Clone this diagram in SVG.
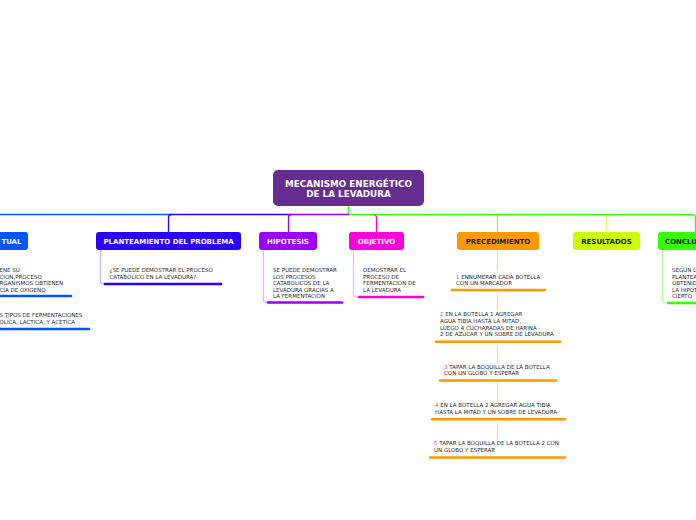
<svg xmlns="http://www.w3.org/2000/svg" width="696" height="520" viewBox="0 0 696 520">
<style>
.root{font-family:"DejaVu Sans",Verdana,sans-serif;font-weight:bold;font-size:8.8px;fill:#ffffff;text-anchor:middle}
.lbl{font-family:"DejaVu Sans",Verdana,sans-serif;font-weight:bold;font-size:7px;text-anchor:middle}
.w{fill:#ffffff}
.d{fill:#1a1a1a}
.t{font-family:"DejaVu Sans",Verdana,sans-serif;font-size:5.5px;fill:#2a2a2a}
.n{fill:#e0506a}
.c{fill:none;stroke-width:1.3}
.u{fill:none;stroke-width:2.6;stroke-linecap:round}
</style>
<rect width="696" height="520" fill="#ffffff"/>
<g id="connectors">
  <path class="c" d="M348.5 206 V214.5" stroke="#33ff00"/>
  <path class="c" d="M-5 214.5 H169" stroke="#0055ff"/>
  <path class="c" d="M169 214.5 H288" stroke="#2b00ff"/>
  <path class="c" d="M288 214.5 H349" stroke="#9900ff"/>
  <path class="c" d="M172 214.5 Q168.5 214.5 168.5 218 V232" stroke="#2b00ff"/>
  <path class="c" d="M291.5 214.5 Q288.5 214.5 288.5 218 V232" stroke="#9900ff"/>
  <path class="c" d="M373 214.5 Q376.5 214.5 376.5 218 V232" stroke="#ff00dd"/>
  <path class="c" d="M494.5 214.5 Q497.5 214.5 497.5 218 V232" stroke="#ffc266"/>
  <path class="c" d="M603.5 214.5 Q606.5 214.5 606.5 218 V232" stroke="#e2ff66"/>
  <path class="c" d="M349 214.5 H692 Q695.5 214.5 695.5 218 V232" stroke="#33ff00"/>
  <!-- child connectors -->
  <path class="c" d="M100.5 250 V281 Q100.5 284 104 284" stroke="#c4b8ff"/>
  <path class="c" d="M263.5 250 V299 Q263.5 302.5 267 302.5" stroke="#deb3ff"/>
  <path class="c" d="M353.5 250 V294 Q353.5 297 357 297" stroke="#ffb3f3"/>
  <path class="c" d="M662.5 250 V300 Q662.5 303 666 303" stroke="#b8ffa6"/>
  <path class="c" d="M497.5 250 V271 M497.5 293 V311 M497.5 345 V362 M497.5 383 V401 M497.5 422 V440" stroke="#ffd9a6"/>
  <!-- underlines -->
  <path class="u" d="M-5 296 H71" stroke="#0055ff"/>
  <path class="u" d="M-5 329 H89" stroke="#0055ff"/>
  <path class="u" d="M105 284 H221" stroke="#2b00ff"/>
  <path class="u" d="M268 302.5 H342" stroke="#9900ff"/>
  <path class="u" d="M359 297 H423" stroke="#ff00dd"/>
  <path class="u" d="M668 303 H700" stroke="#33ff00"/>
  <path class="u" d="M452 290 H545" stroke="#ff9900"/>
  <path class="u" d="M436 341.7 H560" stroke="#ff9900"/>
  <path class="u" d="M440 380.5 H556" stroke="#ff9900"/>
  <path class="u" d="M432 419.3 H565" stroke="#ff9900"/>
  <path class="u" d="M430 457.5 H565" stroke="#ff9900"/>
</g>
<g id="root">
  <rect x="273" y="170" width="151" height="36" rx="5" fill="#662d91"/>
  <text class="root" x="348.5" y="186.5">MECANISMO ENERGÉTICO</text>
  <text class="root" x="348.5" y="197.3">DE LA LEVADURA</text>
</g>
<g id="marco">
  <rect x="-60" y="232" width="88" height="18" rx="3" fill="#0055ff"/>
  <text class="lbl w" x="21.5" y="243.5" style="text-anchor:end">TUAL</text>
</g>
<g id="marco-1">
  <text class="t" x="-0.5" y="272">ENE SU</text>
  <text class="t" x="-0.5" y="278.6">CIÓN,PROCESO</text>
  <text class="t" x="-0.5" y="285.2">RGANISMOS OBTIENEN</text>
  <text class="t" x="-0.5" y="291.8">CIA DE OXIGENO</text>
</g>
<g id="marco-2">
  <text class="t" x="-0.5" y="317">S TIPOS DE FERMENTACIONES</text>
  <text class="t" x="-0.5" y="323.6">ÓLICA, LÁCTICA, Y ACETICA</text>
</g>
<g id="planteamiento">
  <rect x="96" y="232" width="145" height="18" rx="3" fill="#2b00ff"/>
  <text class="lbl w" x="168.5" y="243.5">PLANTEAMIENTO DEL PROBLEMA</text>
</g>
<g id="planteamiento-1">
  <text class="t" x="109.5" y="272">¿SE PUEDE DEMOSTRAR EL PROCESO</text>
  <text class="t" x="109.5" y="278.8">CATABOLICO EN LA LEVADURA?</text>
</g>
<g id="hipotesis">
  <rect x="259" y="232" width="58" height="18" rx="3" fill="#9900ff"/>
  <text class="lbl w" x="288" y="243.5">HIPOTESIS</text>
</g>
<g id="hipotesis-1">
  <text class="t" x="273" y="272">SE PUEDE DEMOSTRAR</text>
  <text class="t" x="273" y="278.6">LOS PROCESOS</text>
  <text class="t" x="273" y="285.2">CATABOLICOS DE LA</text>
  <text class="t" x="273" y="291.8">LEVADURA GRACIAS A</text>
  <text class="t" x="273" y="298.4">LA FERMENTACIÓN</text>
</g>
<g id="objetivo">
  <rect x="349" y="232" width="55" height="18" rx="3" fill="#ff00dd"/>
  <text class="lbl w" x="376.5" y="243.5">OBJETIVO</text>
</g>
<g id="objetivo-1">
  <text class="t" x="363" y="272">DEMOSTRAR EL</text>
  <text class="t" x="363" y="278.6">PROCESO DE</text>
  <text class="t" x="363" y="285.2">FERMENTACIÓN DE</text>
  <text class="t" x="363" y="291.8">LA LEVADURA</text>
</g>
<g id="precedimiento">
  <rect x="457" y="232" width="82" height="18" rx="3" fill="#ff9900"/>
  <text class="lbl d" x="498" y="243.5">PRECEDIMIENTO</text>
</g>
<g id="paso-1">
  <text class="t" x="456" y="278.7"><tspan class="n">1</tspan> ENNUMERAR CADA BOTELLA</text>
  <text class="t" x="456" y="285.3">CON UN MARCADOR</text>
</g>
<g id="paso-2">
  <text class="t" x="440" y="316.3"><tspan class="n">2</tspan> EN LA BOTELLA 1 AGREGAR</text>
  <text class="t" x="440" y="322.9">AGUA TIBIA HASTA LA MITAD,</text>
  <text class="t" x="440" y="329.5">LUEGO 4 CUCHARADAS DE HARINA</text>
  <text class="t" x="440" y="336.1">2 DE AZUCAR Y UN SOBRE DE LEVADURA</text>
</g>
<g id="paso-3">
  <text class="t" x="444" y="368.7"><tspan class="n">3</tspan> TAPAR LA BOQUILLA DE LA BOTELLA</text>
  <text class="t" x="444" y="375.3">CON UN GLOBO Y ESPERAR</text>
</g>
<g id="paso-4">
  <text class="t" x="435" y="407"><tspan class="n">4</tspan> EN LA BOTELLA 2 AGREGAR AGUA TIBIA</text>
  <text class="t" x="435" y="413.6">HASTA LA MITAD Y UN SOBRE DE LEVADURA</text>
</g>
<g id="paso-5">
  <text class="t" x="434" y="445.3"><tspan class="n">5</tspan> TAPAR LA BOQUILLA DE LA BOTELLA 2 CON</text>
  <text class="t" x="434" y="452">UN GLOBO Y ESPERAR</text>
</g>
<g id="resultados">
  <rect x="573" y="232" width="67" height="18" rx="3" fill="#ccff00"/>
  <text class="lbl d" x="606.5" y="243.5">RESULTADOS</text>
</g>
<g id="conclusion">
  <rect x="658" y="232" width="60" height="18" rx="3" fill="#33ff00"/>
  <text class="lbl d" x="665" y="243.5" style="text-anchor:start">CONCLU</text>
</g>
<g id="conclusion-1">
  <text class="t" x="672" y="272">SEGÚN L</text>
  <text class="t" x="672" y="278.6">PLANTEA</text>
  <text class="t" x="672" y="285.2">OBTENID</text>
  <text class="t" x="672" y="291.8">LA HIPÓT</text>
  <text class="t" x="672" y="298.4">CIERTO</text>
</g>
</svg>
